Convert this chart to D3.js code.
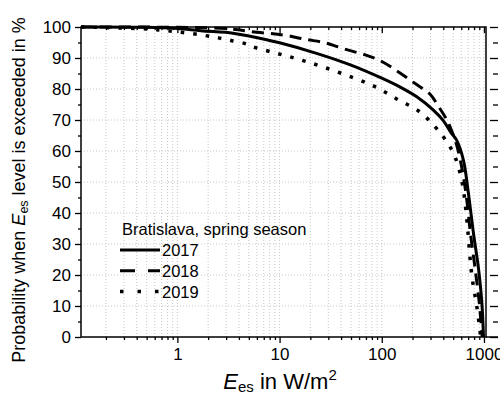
<!DOCTYPE html>
<html>
<head>
<meta charset="utf-8">
<script src="https://cdn.jsdelivr.net/npm/d3@7"></script>
<style>
  html,body{margin:0;padding:0;background:#fff;}
  svg{display:block;}
</style>
</head>
<body>
<div id="chart"></div>
<script>
// irradiance level E_es (W/m2) and probability of exceedance (%)
var years=['2017','2018','2019'];
var e2017=[0.114,0.5,1,1.7,3.5,5,10,23,50,100,150,220,320,400,470,540,630,700,790,880,950,990];
var p2017=[100,99.9,99.5,98.8,98,97.1,94.9,91.5,87.7,83.5,80.7,77.5,73.2,69.8,66.2,63.5,57,47,33.4,22.6,11.8,0];
var e2018=[0.114,1,3,6,11,18,28,43,69,96,137,207,297,360,420,470,540,620,680,740,820,900,960];
var p2018=[100,99.9,99.5,98.3,97.4,96,94.9,92.9,91,89.2,86.1,82,78.3,74.3,70.8,67.5,62,53,44,33,22,11,0];
var e2019=[0.114,0.2,0.54,0.79,1.14,1.82,2.52,3.5,4.8,5.5,9.4,16.5,29,53,89,140,229,333,432,521,610,670,760,850,930];
var p2019=[100,99.8,99.3,98.8,98.2,97.3,96.5,95.5,94.5,93.6,91.5,89.3,86.7,83.6,80.5,76.8,72.9,67.8,63,58.1,50,40,20,10,0];
var xMajor=[1,10,100,1000];
var xMinor=[0.2,0.3,0.4,0.5,0.6,0.7,0.8,0.9,2,3,4,5,6,7,8,9,20,30,40,50,60,70,80,90,200,300,400,500,600,700,800,900];
var yMajor=[0,10,20,30,40,50,60,70,80,90,100];
var yMinor=[5,15,25,35,45,55,65,75,85,95];
var legendTitle='Bratislava, spring season';

var W=500,H=394;
var m={l:81,r:14,t:27,b:57};
var pw=W-m.l-m.r, ph=H-m.t-m.b;

var svg=d3.select('#chart').append('svg').attr('width',W).attr('height',H)
  .style('font-family','"Liberation Sans", Arial, sans-serif');

var x=d3.scaleLog().domain([0.114,1047]).range([0,pw]);
var y=d3.scaleLinear().domain([0,100]).range([ph,0]);

var g=svg.append('g').attr('transform','translate('+m.l+','+m.t+')');

//---------------- grid ----------------
var gridC='#c8c8c8';
g.append('g').selectAll('line').data(xMajor.concat(xMinor)).enter().append('line')
  .attr('x1',function(d){return x(d)}).attr('x2',function(d){return x(d)})
  .attr('y1',0).attr('y2',ph)
  .attr('stroke',gridC).attr('stroke-width',1).attr('stroke-dasharray','1,2');
g.append('g').selectAll('line').data(yMajor.slice(1,-1)).enter().append('line')
  .attr('y1',function(d){return y(d)}).attr('y2',function(d){return y(d)})
  .attr('x1',0).attr('x2',pw)
  .attr('stroke',gridC).attr('stroke-width',1).attr('stroke-dasharray','1,2');

//---------------- axes ----------------
function styleAxis(sel){
  sel.select('.domain').remove();
  sel.selectAll('line').attr('stroke','#000').attr('stroke-width',1.3);
  sel.selectAll('text').attr('fill','#000').style('font-size','17px');
}
// bottom
g.append('g').attr('transform','translate(0,'+ph+')')
  .call(d3.axisBottom(x).tickValues(xMajor).tickSize(6).tickPadding(5).tickFormat(d3.format('d')))
  .call(styleAxis);
g.append('g').attr('transform','translate(0,'+ph+')')
  .call(d3.axisBottom(x).tickValues(xMinor).tickSize(3).tickFormat(''))
  .call(styleAxis);
// top (inward)
g.append('g').call(d3.axisTop(x).tickValues(xMajor).tickSize(-6).tickFormat('')).call(styleAxis);
g.append('g').call(d3.axisTop(x).tickValues(xMinor).tickSize(-3).tickFormat('')).call(styleAxis);
// left
g.append('g').call(d3.axisLeft(y).tickValues(yMajor).tickSize(6).tickPadding(4)).call(styleAxis);
g.append('g').call(d3.axisLeft(y).tickValues(yMinor).tickSize(3).tickFormat('')).call(styleAxis);
// right ticks, set off from the frame
g.append('g').attr('transform','translate('+(pw+12)+',0)')
  .call(d3.axisRight(y).tickValues(yMajor).tickSize(-8).tickFormat('')).call(styleAxis);
g.append('g').attr('transform','translate('+(pw+12)+',0)')
  .call(d3.axisRight(y).tickValues(yMinor).tickSize(-5).tickFormat('')).call(styleAxis);

// frame
g.append('rect').attr('width',pw).attr('height',ph)
  .attr('fill','none').attr('stroke','#000').attr('stroke-width',1.5);
g.append('line').attr('x1',pw).attr('x2',pw+12).attr('y1',ph).attr('y2',ph)
  .attr('stroke','#000').attr('stroke-width',1.5);

//---------------- curves ----------------
var styles=[
  {e:e2017,p:p2017,dash:null,w:3},
  {e:e2018,p:p2018,dash:'12,7',w:3},
  {e:e2019,p:p2019,dash:'3.5,9',w:3.5}
];
var line=d3.line().x(function(d){return x(d[0])}).y(function(d){return y(d[1])}).curve(d3.curveCatmullRom.alpha(0.5));
styles.forEach(function(s){
  var pts=s.e.map(function(v,i){return [v,s.p[i]]});
  g.append('path').datum(pts).attr('d',line)
    .attr('fill','none').attr('stroke','#000').attr('stroke-width',s.w)
    .attr('stroke-dasharray',s.dash);
});

//---------------- legend ----------------
var lg=svg.append('g');
lg.append('text').attr('x',122).attr('y',235).style('font-size','16.5px').text(legendTitle);
years.forEach(function(yr,i){
  var yy=250+i*20.8;
  lg.append('line').attr('x1',120).attr('x2',160).attr('y1',yy).attr('y2',yy)
    .attr('stroke','#000').attr('stroke-width',styles[i].w)
    .attr('stroke-dasharray',i==1?'15,13':(i==2?'3.5,14':null));
  lg.append('text').attr('x',162).attr('y',yy+6).style('font-size','16.5px').text(yr);
});

//---------------- titles ----------------
var xt=svg.append('text').attr('x',280).attr('y',389).attr('text-anchor','middle').style('font-size','22px');
xt.append('tspan').attr('font-style','italic').text('E');
xt.append('tspan').style('font-size','15px').attr('dy',3).text('es');
xt.append('tspan').attr('dy',-3).text(' in W/m');
xt.append('tspan').style('font-size','15px').attr('dy',-9).text('2');

var yt=svg.append('text').attr('transform','translate(25,190) rotate(-90)').attr('text-anchor','middle').style('font-size','18px');
yt.append('tspan').text('Probability when ');
yt.append('tspan').attr('font-style','italic').text('E');
yt.append('tspan').style('font-size','12.5px').attr('dy',3).text('es');
yt.append('tspan').attr('dy',-3).text(' level is exceeded in %');
</script>
</body>
</html>
